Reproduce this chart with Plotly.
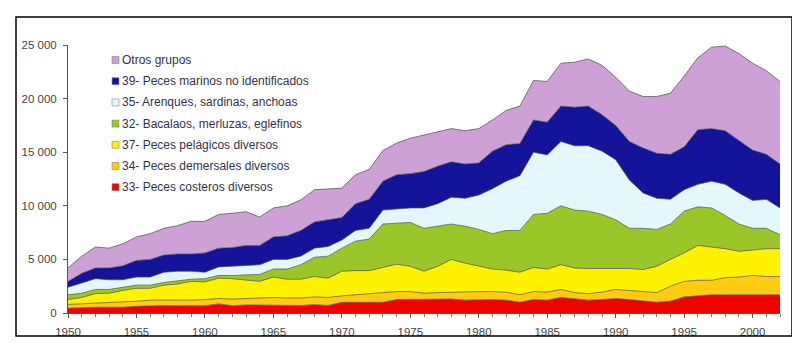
import plotly.graph_objects as go

years = list(range(1950, 2003))

# Series values (thousand tonnes)
costeros_33 = [450, 500, 530, 530, 530, 620, 680, 700, 680, 680,
               680, 850, 680, 750, 750, 750, 700, 700, 780, 700,
               1000, 1000, 1000, 1000, 1250, 1250, 1250, 1300, 1300, 1200,
               1250, 1250, 1200, 1000, 1250, 1200, 1450, 1300, 1200, 1250,
               1350, 1250, 1150, 1000, 1100, 1500, 1600, 1700, 1700, 1700,
               1750, 1700, 1700]
demersales_34 = [350, 350, 420, 420, 470, 480, 520, 500, 470, 520,
                 570, 500, 620, 600, 650, 700, 700, 700, 720, 750,
                 600, 700, 750, 850, 750, 750, 600, 600, 650, 750,
                 750, 750, 750, 700, 750, 750, 750, 600, 600, 700,
                 850, 850, 850, 900, 1400, 1450, 1450, 1350, 1600, 1650,
                 1750, 1700, 1700]
pelagicos_37 = [450, 600, 850, 900, 1100, 1200, 1100, 1400, 1550, 1750,
                1650, 1900, 1900, 1750, 1550, 1900, 1750, 1750, 1900, 1800,
                2300, 2250, 2200, 2400, 2550, 2350, 2050, 2450, 3050, 2700,
                2400, 2100, 2050, 2100, 2250, 2150, 2300, 2300, 2350, 2200,
                2000, 2050, 2050, 2450, 2500, 2650, 3250, 3100, 2700, 2400,
                2400, 2600, 2600]
bacalaos_32 = [450, 400, 400, 350, 300, 300, 300, 250, 300, 200,
               300, 250, 300, 450, 650, 750, 950, 1350, 1800, 2050,
               2150, 2750, 2950, 4050, 3850, 4100, 4000, 3750, 3300, 3450,
               3400, 3300, 3700, 3900, 4950, 5200, 5500, 5400, 5350, 5050,
               4500, 3750, 3850, 3450, 3300, 3900, 3600, 3650, 3100, 2550,
               2000, 1900, 1300]
arenques_35 = [700, 950, 1000, 900, 700, 750, 750, 950, 900, 750,
               600, 800, 850, 850, 900, 900, 900, 800, 850, 900,
               750, 1000, 1000, 1300, 1300, 1350, 1900, 2100, 2500, 2600,
               3200, 4200, 4600, 5100, 5800, 5450, 6000, 6000, 6100, 5900,
               5600, 4500, 3300, 2900, 2300, 2000, 2100, 2500, 2900, 2900,
               2600, 2700, 2500]
marinos_39 = [550, 900, 1000, 1100, 1300, 1550, 1650, 1600, 1600, 1600,
              1800, 1750, 1750, 1900, 1800, 2100, 2200, 2400, 2450, 2500,
              2100, 2500, 2700, 2700, 3200, 3200, 3400, 3500, 3300, 3200,
              3000, 3500, 3400, 3000, 3000, 3050, 3300, 3600, 3700, 3400,
              3200, 3600, 4200, 4200, 4200, 4000, 5100, 4900, 5000, 4900,
              4700, 4200, 4100]
otros = [1250, 1600, 1950, 1850, 2050, 2200, 2400, 2500, 2650, 3050,
         2950, 3150, 3200, 3150, 2650, 2700, 2800, 2850, 3000, 2850,
         2750, 2700, 2800, 2850, 2950, 3300, 3400, 3200, 3100, 3100,
         3200, 2900, 3200, 3500, 3700, 3800, 4000, 4200, 4400, 4600,
         4500, 4700, 4800, 5300, 5700, 6600, 6700, 7600, 7900, 8100,
         8100, 7800, 7700]

series_names = [
    "33- Peces costeros diversos",
    "34- Peces demersales diversos",
    "37- Peces pelágicos diversos",
    "32- Bacalaos, merluzas, eglefinos",
    "35- Arenques, sardinas, anchoas",
    "39- Peces marinos no identificados",
    "Otros grupos",
]
series_values = [costeros_33, demersales_34, pelagicos_37, bacalaos_32,
                 arenques_35, marinos_39, otros]
series_colors = ["#F20000", "#FFCC11", "#FFF200", "#9BC62A",
                 "#E4F8FC", "#14149A", "#CDA0D6"]

y_tick_vals = [0, 5000, 10000, 15000, 20000, 25000]
y_tick_text = ["0", "5 000", "10 000", "15 000", "20 000", "25 000"]

fig = go.Figure()
for name, vals, col in zip(series_names, series_values, series_colors):
    fig.add_trace(go.Scatter(
        x=years, y=vals, name=name, mode="lines",
        stackgroup="one", fillcolor=col,
        line=dict(color="#4a4a4a", width=0.7),
        showlegend=False,
    ))

# The page body has an 8px margin: figure coordinates = screen - 8
OFF = 8
W, H = 790, 350
plot_l, plot_r, plot_t, plot_b = 68 - OFF, 780 - OFF, 45 - OFF, 313 - OFF


def px_to_paper_x(px):
    return (px - OFF - plot_l) / (plot_r - plot_l)


def px_to_paper_y(py):
    return (plot_b - (py - OFF)) / (plot_b - plot_t)


# Manual legend (top-left, inside plot), top item = last series
legend_x0 = 112   # screen px
legend_top = 60   # screen px, centre of first row
row_gap = 21.2

shapes = []
annotations = []
for i, (name, col) in enumerate(reversed(list(zip(series_names, series_colors)))):
    cy = legend_top + i * row_gap
    shapes.append(dict(
        type="rect", xref="paper", yref="paper",
        x0=px_to_paper_x(legend_x0), x1=px_to_paper_x(legend_x0 + 7),
        y0=px_to_paper_y(cy + 3.5), y1=px_to_paper_y(cy - 3.5),
        fillcolor=col, line=dict(color="#888888", width=0.6),
    ))
    annotations.append(dict(
        xref="paper", yref="paper",
        x=px_to_paper_x(legend_x0 + 8), y=px_to_paper_y(cy),
        text=name, showarrow=False, xanchor="left", yanchor="middle",
        font=dict(family="Liberation Sans, Arial, sans-serif", size=12,
                  color="#33334a"),
    ))

# outer black frame
shapes.append(dict(
    type="rect", xref="paper", yref="paper",
    x0=px_to_paper_x(16), x1=px_to_paper_x(792),
    y0=px_to_paper_y(336), y1=px_to_paper_y(17),
    line=dict(color="#000000", width=1.5), fillcolor="rgba(0,0,0,0)",
    layer="above",
))

fig.update_layout(
    width=W, height=H,
    margin=dict(l=plot_l, r=W - plot_r, t=plot_t, b=H - plot_b),
    paper_bgcolor="white", plot_bgcolor="white",
    showlegend=False,
    shapes=shapes, annotations=annotations,
    font=dict(family="Liberation Sans, Arial, sans-serif", size=11, color="#444444"),
    xaxis=dict(
        range=[1950, 2002], tick0=1950, dtick=5,
        showgrid=False, zeroline=False,
        showline=True, linecolor="#555555", linewidth=1,
        ticks="outside", ticklen=4, tickcolor="#555555",
        ticklabelstandoff=4,
        minor=dict(dtick=1, ticks="outside", ticklen=3, tickcolor="#777777", showgrid=False),
        tickfont=dict(size=11.5, color="#444444"),
    ),
    yaxis=dict(
        range=[0, 25000], tickvals=y_tick_vals, ticktext=y_tick_text,
        showgrid=False, zeroline=False,
        showline=True, linecolor="#555555", linewidth=1,
        ticks="outside", ticklen=4, tickcolor="#555555",
        ticklabelstandoff=4,
        tickfont=dict(size=11.5, color="#444444"),
    ),
)

fig.write_html("out.html")
